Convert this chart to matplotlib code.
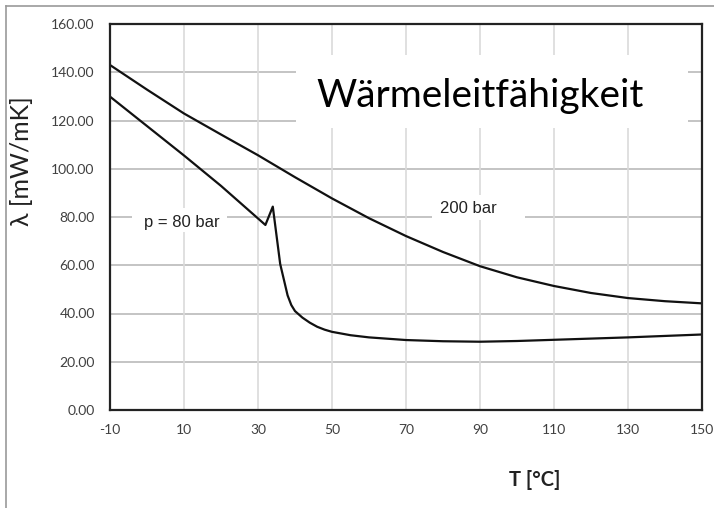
import matplotlib
matplotlib.use("Agg")
import matplotlib.pyplot as plt
from matplotlib.patches import Rectangle
from matplotlib.lines import Line2D

# ---- data ----
t_200 = [-10, 0, 10, 20, 30, 40, 50, 60, 70, 80, 90, 100, 110, 120, 130, 140, 150]
lam_200 = [143.0, 132.8, 122.9, 114.2, 105.6, 96.5, 87.7, 79.5, 72.1, 65.5, 59.6,
           55.0, 51.4, 48.5, 46.4, 45.1, 44.2]

t_80 = [-10, 0, 10, 20, 30, 32, 34, 36, 38, 39, 40, 42, 44, 46, 48, 50, 55, 60,
        70, 80, 90, 100, 110, 120, 130, 140, 150]
lam_80 = [129.9, 117.7, 105.5, 92.9, 79.4, 76.7, 84.3, 60.5, 47.5, 43.5, 41.0, 38.3,
          36.2, 34.5, 33.3, 32.4, 31.0, 30.1, 29.0, 28.5, 28.3, 28.6, 29.1, 29.6,
          30.1, 30.7, 31.3]

x_ticks = [-10, 10, 30, 50, 70, 90, 110, 130, 150]
x_grid = [10, 30, 50, 70, 90, 110, 130]
y_ticks = [0, 20, 40, 60, 80, 100, 120, 140, 160]

title_text = "Wärmeleitfähigkeit"
label_80 = "p = 80 bar"
label_200 = "200 bar"
xlabel = "T [°C]"
ylabel = "λ [mW/mK]"

fig = plt.figure(figsize=(7.14, 5.08), dpi=100)
ax = fig.add_axes([110/714, 98/508, 592/714, 386/508])
ax.set_axisbelow(True)

# grid
for y in y_ticks[1:-1]:
    ax.axhline(y, color="#b4b4b4", lw=1.1, zorder=0.5)
for x in x_grid:
    ax.axvline(x, color="#dadada", lw=1.2, zorder=0.5)

# white text boxes hiding grid
ax.add_patch(Rectangle((40.3, 116.9), 105.9, 30.3, facecolor="white", edgecolor="none", zorder=1))
ax.add_patch(Rectangle((-4.1, 73.6), 25.7, 10.2, facecolor="white", edgecolor="none", zorder=1))
ax.add_patch(Rectangle((77.0, 78.8), 25.2, 10.4, facecolor="white", edgecolor="none", zorder=1))

ax.plot(t_200, lam_200, color="#111111", lw=1.6, zorder=2)
ax.plot(t_80, lam_80, color="#111111", lw=1.6, zorder=2)

ax.text(90.1, 125.6, title_text, fontsize=28, family="Lato", ha="center", va="baseline",
        color="black", zorder=3)
ax.text(9.5, 75.7, label_80, fontsize=12, family="Liberation Sans", ha="center", va="baseline",
        color="#222222", zorder=3)
ax.text(86.8, 81.7, label_200, fontsize=12, family="Liberation Sans", ha="center", va="baseline",
        color="#222222", zorder=3)

ax.set_xlim(-10, 150)
ax.set_ylim(0, 160)
ax.set_xticks(x_ticks)
ax.set_yticks(y_ticks)
ax.set_xticklabels([str(v) for v in x_ticks])
ax.set_yticklabels([f"{v:.2f}" for v in y_ticks])
ax.tick_params(axis="both", length=0, labelsize=10, labelcolor="#404040")
ax.tick_params(axis="y", pad=11)
ax.tick_params(axis="x", pad=10)
for lab in ax.get_xticklabels() + ax.get_yticklabels():
    lab.set_family("Lato")

for s in ax.spines.values():
    s.set_color("#222222")
    s.set_linewidth(1.6)

ax.set_ylabel(ylabel, fontsize=18, fontweight="normal", family="Lato", color="#222222")
ax.yaxis.set_label_coords(-0.13, 0.645)
ax.set_xlabel(xlabel, fontsize=14.5, fontweight="bold", family="Lato", color="#222222")
ax.xaxis.set_label_coords(0.718, -0.155)

# outer chart border (partially visible)
fig.add_artist(Line2D([6/714, 1], [1 - 6/508, 1 - 6/508], color="#9a9a9a", lw=1.2,
                      transform=fig.transFigure))
fig.add_artist(Line2D([6/714, 6/714], [0, 1 - 6/508], color="#9a9a9a", lw=1.2,
                      transform=fig.transFigure))

fig.savefig("out.png", dpi=100)
